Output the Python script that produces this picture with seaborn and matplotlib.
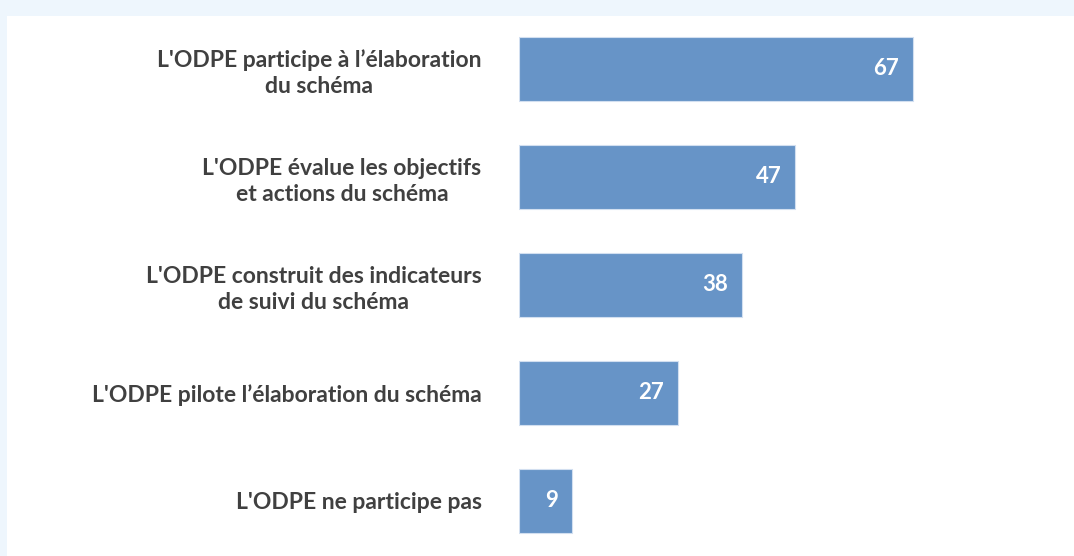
import matplotlib
matplotlib.use("Agg")
import matplotlib.pyplot as plt
import seaborn as sns
import pandas as pd

# Data
labels = [
    "L'ODPE participe à l’élaboration\ndu schéma",
    "L'ODPE évalue les objectifs\net actions du schéma",
    "L'ODPE construit des indicateurs\nde suivi du schéma",
    "L'ODPE pilote l’élaboration du schéma",
    "L'ODPE ne participe pas",
]
values = [67, 47, 38, 27, 9]

df = pd.DataFrame({"label": labels, "value": values})

sns.set_style("white")
plt.rcParams["font.family"] = ["Lato", "DejaVu Sans"]

fig = plt.figure(figsize=(10.74, 5.56), dpi=100)
fig.patch.set_facecolor("#eef6fd")

# white panel behind the chart
bg = fig.add_axes([7 / 1074, 0, 1, 540 / 556], zorder=-1)
bg.set_facecolor("white")
bg.set_xticks([])
bg.set_yticks([])
for s in bg.spines.values():
    s.set_visible(False)

ax = fig.add_axes([519 / 1074, 0, (1066 - 519) / 1074, 540 / 556])
ax.set_facecolor("none")

sns.barplot(data=df, x="value", y="label", orient="h", color="#6794c7",
            width=0.6, saturation=1, edgecolor="#d2dff0", linewidth=0.8, ax=ax)

ax.set_xlim(0, (1066 - 519) / 5.88)
ax.set_ylim(4.51, -0.49)
ax.set_xlabel("")
ax.set_ylabel("")
ax.set_xticks([])
sns.despine(ax=ax, left=True, bottom=True)
ax.tick_params(axis="y", length=0, pad=27)
for t in ax.get_yticklabels():
    t.set_fontsize(16.5)
    t.set_fontweight("bold")
    t.set_color("#404040")
    t.set_multialignment("center")
    t.set_linespacing(1.3)

for i, v in enumerate(values):
    ax.annotate(str(v), xy=(v, i), xytext=(-10, 0), textcoords="offset points",
                ha="right", va="center", color="white", fontsize=16, fontweight="bold")

fig.savefig("out.png", dpi=100, facecolor=fig.get_facecolor())
